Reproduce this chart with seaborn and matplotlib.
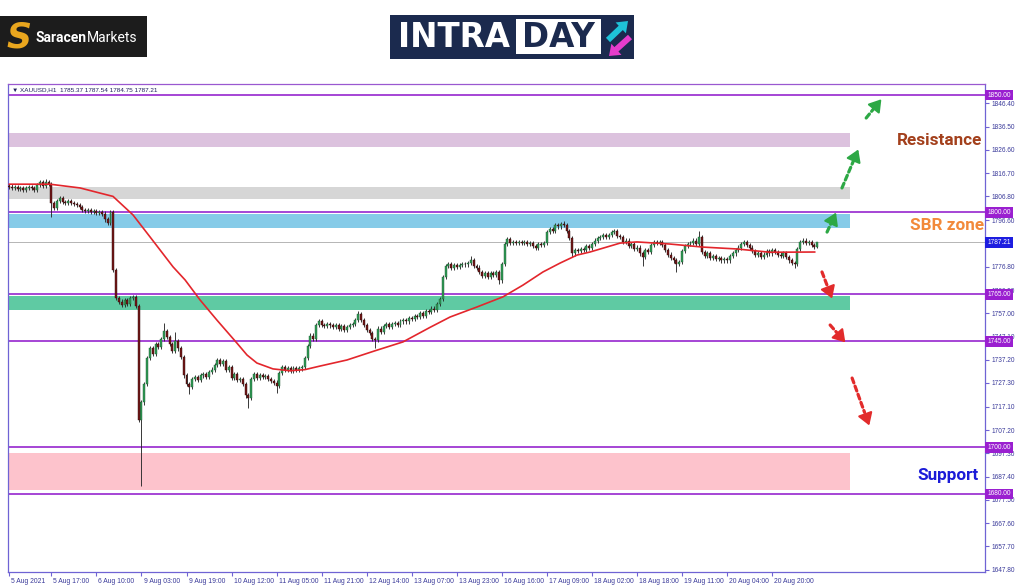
import matplotlib
matplotlib.use("Agg")
import numpy as np
import pandas as pd
import matplotlib.pyplot as plt
import seaborn as sns
from matplotlib import transforms
from matplotlib.patches import Rectangle, FancyArrow

# ---------------- data ----------------
header_text = "\u25BC XAUUSD,H1  1785.37 1787.54 1784.75 1787.21"
first_open = 1811.2
closes = [
    1811.0, 1810.5, 1810.8, 1809.8, 1810.2, 1809.5, 1810.3, 1810.9, 1810.5, 1809.6,
    1811.5, 1812.8, 1811.2, 1813.0, 1812.2, 1804.0, 1802.0, 1805.0, 1806.0, 1804.5,
    1804.0, 1804.8, 1804.0, 1803.5, 1803.0, 1802.2, 1801.0, 1800.5, 1800.8, 1800.2,
    1800.5, 1799.8, 1800.3, 1799.5, 1797.0, 1795.5, 1800.0, 1775.5, 1763.5, 1762.0,
    1760.5, 1762.5, 1761.0, 1763.5, 1764.0, 1760.0, 1711.5, 1719.0, 1727.0, 1738.0,
    1742.0, 1739.5, 1744.0, 1742.5, 1746.0, 1749.5, 1747.0, 1744.0, 1741.0, 1745.0,
    1742.0, 1738.5, 1730.5, 1727.0, 1725.5, 1729.0, 1730.0, 1728.5, 1730.5, 1731.0,
    1730.0, 1732.0, 1733.0, 1735.0, 1737.0, 1735.5, 1736.5, 1733.0, 1734.0, 1729.5,
    1731.0, 1728.5, 1729.0, 1727.0, 1722.0, 1721.0, 1729.0, 1731.0, 1729.5, 1730.5,
    1729.8, 1730.2, 1729.0, 1728.0, 1727.5, 1726.0, 1731.5, 1734.0, 1733.0, 1733.5,
    1732.5, 1733.8, 1732.8, 1733.5, 1734.0, 1738.0, 1743.0, 1747.5, 1746.0, 1752.0,
    1753.5, 1752.0, 1751.5, 1752.5, 1751.8, 1751.0, 1752.0, 1750.5, 1751.5, 1750.0,
    1751.0, 1752.0, 1752.5, 1754.0, 1756.5, 1754.0, 1752.0, 1750.0, 1748.5, 1746.0,
    1745.5, 1750.5, 1749.0, 1751.5, 1752.5, 1751.0, 1752.5, 1753.0, 1752.0, 1753.5,
    1754.0, 1753.5, 1755.0, 1754.5, 1756.0, 1755.5, 1757.0, 1756.0, 1758.0, 1757.5,
    1759.0, 1758.5, 1761.0, 1763.0, 1772.5, 1777.0, 1778.0, 1776.5, 1777.5, 1776.8,
    1777.5, 1778.0, 1777.8, 1778.5, 1779.5, 1777.0, 1776.5, 1774.5, 1773.0, 1774.0,
    1772.5, 1774.0, 1773.5, 1774.5, 1771.0, 1778.0, 1786.5, 1788.5, 1787.0, 1787.5,
    1786.8, 1787.3, 1787.0, 1787.5, 1786.5, 1787.0, 1785.5, 1785.0, 1786.5, 1786.0,
    1786.8, 1791.5, 1793.0, 1792.0, 1794.5, 1794.0, 1795.0, 1794.5, 1792.0, 1789.0,
    1782.5, 1784.0, 1783.5, 1784.5, 1784.0, 1785.5, 1785.0, 1786.5, 1788.0, 1789.0,
    1789.5, 1790.5, 1789.5, 1790.5, 1791.5, 1792.0, 1790.0, 1789.5, 1787.5, 1788.0,
    1785.5, 1786.5, 1784.5, 1785.0, 1782.5, 1781.0, 1784.0, 1783.0, 1786.0, 1787.5,
    1787.0, 1787.5, 1786.0, 1784.0, 1782.0, 1780.5, 1779.5, 1778.0, 1779.0, 1783.5,
    1785.5, 1786.5, 1787.0, 1788.0, 1786.5, 1789.5, 1783.0, 1781.5, 1782.5, 1780.5,
    1781.5, 1780.0, 1780.5, 1779.5, 1780.0, 1779.5, 1781.5, 1782.5, 1784.0, 1785.0,
    1786.5, 1787.5, 1786.0, 1785.0, 1783.5, 1782.0, 1782.5, 1781.0, 1782.0, 1783.5,
    1782.5, 1784.0, 1783.0, 1782.0, 1781.5, 1782.5, 1781.0, 1779.5, 1778.5, 1778.0,
    1784.5, 1787.5, 1788.0, 1787.0, 1787.5, 1786.0, 1785.37, 1787.21,
]
# notable wick extremes (bar index -> price)
high_marks = {13: 1814.0, 55: 1753.0, 59: 1749.0, 124: 1758.0, 164: 1781.5,
              197: 1796.2, 215: 1793.0, 245: 1792.0, 287: 1787.54}
low_marks = {15: 1798.0, 46: 1710.5, 47: 1683.5, 64: 1722.5, 85: 1716.8,
             95: 1723.0, 130: 1742.0, 174: 1769.5, 200: 1781.0, 225: 1777.0,
             237: 1774.5, 279: 1776.5, 287: 1784.75}

ma_bars = [0, 14.5, 25.2, 32.3, 36.9, 44.0, 50.0, 58.2, 62.5, 67.8, 73.8, 80.9,
           84.5, 88.0, 93.7, 99.8, 105.1, 110.4, 120.0, 129.9, 139.9, 149.5,
           156.6, 166.2, 175.4, 182.5, 189.6, 195.7, 201.7, 206.3, 217.0, 223.0,
           234.7, 246.4, 258.5, 270.2, 286.2]
ma_values = [1812.0, 1812.0, 1810.4, 1808.2, 1806.8, 1798.9, 1789.6, 1776.8,
             1771.2, 1762.7, 1754.1, 1744.3, 1739.2, 1735.8, 1733.3, 1732.5,
             1733.0, 1734.5, 1737.1, 1741.0, 1744.8, 1751.0, 1755.4, 1759.7,
             1764.0, 1769.0, 1774.6, 1778.4, 1781.8, 1783.1, 1786.9, 1787.4,
             1786.5, 1785.2, 1784.4, 1783.0, 1783.1]

x_tick_bars = [0, 15, 31, 47, 63, 79, 95, 111, 127, 143, 159, 175, 191, 207,
               223, 239, 255, 271]
x_tick_labels = ["5 Aug 2021", "5 Aug 17:00", "6 Aug 10:00", "9 Aug 03:00",
                 "9 Aug 19:00", "10 Aug 12:00", "11 Aug 05:00", "11 Aug 21:00",
                 "12 Aug 14:00", "13 Aug 07:00", "13 Aug 23:00", "16 Aug 16:00",
                 "17 Aug 09:00", "18 Aug 02:00", "18 Aug 18:00", "19 Aug 11:00",
                 "20 Aug 04:00", "20 Aug 20:00"]
y_tick_values = [1846.40, 1836.50, 1826.60, 1816.70, 1806.80, 1796.60,
                 1776.80, 1766.90, 1757.00, 1747.10, 1737.20, 1727.30, 1717.10,
                 1707.20, 1697.30, 1687.40, 1677.50, 1667.60, 1657.70, 1647.80]
level_values = [1850.00, 1800.00, 1765.00, 1745.00, 1700.00, 1680.00]
last_price = 1787.21

zone_low = [1827.8, 1805.7, 1793.3, 1758.3, 1681.7]
zone_high = [1833.8, 1810.8, 1799.3, 1764.2, 1697.6]
zone_colors = ["#dcc2de", "#d6d6d6", "#86cbe8", "#5fcaa3", "#fdc3cc"]

zone_labels = ["Resistance", "SBR zone", "Support"]
zone_label_pos = [(330.3, 1830.8), (333.0, 1794.2), (333.5, 1687.7)]
zone_label_colors = ["#a3401c", "#f2893a", "#1b1bd8"]

up_arrows = [((290.5, 1791.6), (293.7, 1799.9)),
             ((295.8, 1810.4), (301.6, 1826.8)),
             ((304.4, 1840.2), (309.8, 1848.2))]
down_arrows = [((288.7, 1774.6), (292.3, 1763.3)),
               ((291.6, 1752.0), (297.0, 1744.6)),
               ((299.4, 1729.4), (305.5, 1709.2))]

# ---------------- build OHLC ----------------
WICK = 0.9
n = len(closes)
opens = [first_open] + closes[:-1]
opens[-1] = 1785.37
df = pd.DataFrame({"bar": np.arange(n), "open": opens, "close": closes})
df["high"] = [high_marks.get(i, max(o, c) + WICK) for i, o, c in zip(df.bar, df.open, df.close)]
df["low"] = [low_marks.get(i, min(o, c) - WICK) for i, o, c in zip(df.bar, df.open, df.close)]
up = df.close >= df.open

# ---------------- figure ----------------
sns.set_theme(style="white")
plt.rcParams["font.family"] = ["Liberation Sans", "DejaVu Sans"]

fig = plt.figure(figsize=(10.24, 5.87), dpi=100, facecolor="white")
ax = fig.add_axes([8 / 1024, 15 / 587, 977 / 1024, 488 / 587])
ax.set_facecolor("white")
ax.set_xlim(-0.4, 346.6)
ax.set_ylim(1646.76, 1854.69)

axis_col = "#6f63d4"
label_col = "#3a3a9a"
for s in ax.spines.values():
    s.set_color(axis_col)
    s.set_linewidth(0.9)
ax.spines["top"].set_color("#9a58d0")

# zones
band_end = (850 - 8) / 977
for lo, hi, col in zip(zone_low, zone_high, zone_colors):
    ax.axhspan(lo, hi, xmin=0, xmax=band_end, color=col, lw=0, zorder=1)

# level lines
for v in level_values:
    ax.axhline(v, color="#9a2fd0", lw=1.25, zorder=2)
ax.axhline(last_price, color="#b5b5b5", lw=0.7, zorder=2)

# candles
ax.vlines(df.bar, df.low, df.high, color="#2a2a2a", lw=0.65, zorder=3)
ax.bar(df.bar[up], (df.close - df.open)[up].clip(lower=0.35), bottom=df.open[up],
       width=0.7, color="#2f9a55", edgecolor="#1d5a32", linewidth=0.3, zorder=4)
ax.bar(df.bar[~up], (df.open - df.close)[~up].clip(lower=0.35), bottom=df.close[~up],
       width=0.7, color="#741818", edgecolor="#2b0606", linewidth=0.3, zorder=4)

# moving average
sns.lineplot(x=ma_bars, y=ma_values, ax=ax, color="#e3262c", linewidth=1.2,
             sort=False, zorder=5, legend=False)

# dashed arrows
def dashed_arrow(tail, head, col):
    t = np.array(tail); h = np.array(head)
    mid = t + 0.72 * (h - t)
    ax.annotate("", xy=tuple(mid), xytext=tuple(t),
                arrowprops=dict(arrowstyle="-", color=col, lw=2.3,
                                linestyle=(0, (1.6, 1.1)), shrinkA=0, shrinkB=0),
                zorder=6, annotation_clip=False)
    ax.annotate("", xy=tuple(h), xytext=tuple(mid),
                arrowprops=dict(arrowstyle="-|>,head_length=0.6,head_width=0.38",
                                color=col, lw=1.5, shrinkA=0, shrinkB=0),
                zorder=6, annotation_clip=False)

for tail, head in up_arrows:
    dashed_arrow(tail, head, "#2da845")
for tail, head in down_arrows:
    dashed_arrow(tail, head, "#e22b2b")

# zone labels
for txt, (bx, by), col in zip(zone_labels, zone_label_pos, zone_label_colors):
    ax.text(bx, by, txt, ha="center", va="center", fontsize=12.3,
            fontweight="bold", color=col, family=["Roboto", "DejaVu Sans"], zorder=7)

# axes ticks
ax.yaxis.tick_right()
ax.set_yticks(y_tick_values)
ax.set_yticklabels([f"{v:.2f}" for v in y_tick_values])
ax.tick_params(axis="y", direction="out", length=3, width=0.8, color=axis_col,
               labelsize=4.7, labelcolor=label_col, pad=2, left=False, right=True,
               labelleft=False, labelright=True)
ax.set_xticks(x_tick_bars)
ax.set_xticklabels(x_tick_labels)
ax.tick_params(axis="x", direction="out", length=3, width=0.8, color=axis_col,
               labelsize=4.9, labelcolor=label_col, pad=1.5, bottom=True)
offset = transforms.ScaledTranslation(1.5 / 72, 0, fig.dpi_scale_trans)
for lbl in ax.get_xticklabels():
    lbl.set_horizontalalignment("left")
    lbl.set_transform(lbl.get_transform() + offset)
ax.grid(False)

# highlighted price boxes
btrans = transforms.blended_transform_factory(ax.transAxes, ax.transData)
for v in level_values:
    ax.text(1.0025, v, f"{v:.2f}", transform=btrans, ha="left", va="center",
            fontsize=4.7, color="white", zorder=9, clip_on=False,
            bbox=dict(boxstyle="square,pad=0.3", fc="#9a1fd0", ec="none"))
ax.text(1.0025, last_price, f"{last_price:.2f}", transform=btrans, ha="left",
        va="center", fontsize=4.7, color="white", zorder=9, clip_on=False,
        bbox=dict(boxstyle="square,pad=0.3", fc="#1d1de0", ec="none"))

# ---------------- overlay: header & logos (pixel coordinates) ----------------
ov = fig.add_axes([0, 0, 1, 1], zorder=10)
ov.set_xlim(0, 1024)
ov.set_ylim(587, 0)
ov.axis("off")

ov.text(12, 89.5, header_text, fontsize=4.6, color="#1e1e5e", va="center",
        ha="left", family=["Liberation Sans", "DejaVu Sans"])

# SaracenMarkets logo
ov.add_patch(Rectangle((0, 16), 147, 41, color="#1c1c1c", lw=0))
ov.text(19, 37, "S", fontsize=25, fontweight="bold", style="italic",
        color="#e9a61e", ha="center", va="center", family=["DejaVu Sans"])
t1 = ov.text(36, 37.5, "Saracen", fontsize=10, fontweight="bold", color="white",
             ha="left", va="center", family=["Roboto", "DejaVu Sans"])
ov.annotate("Markets", xy=(1, 0.5), xycoords=t1, ha="left", va="center",
            fontsize=10, color="white", family=["Roboto", "DejaVu Sans"])

# INTRADAY logo
navy = "#1b2a4e"
ov.add_patch(Rectangle((390, 15), 244, 44, color=navy, lw=0))
ov.add_patch(Rectangle((516, 19), 85, 35, color="white", lw=0))
ov.text(454, 37.5, "INTRA", fontsize=23.5, fontweight="bold", color="white",
        ha="center", va="center", family=["DejaVu Sans"])
ov.text(558.5, 37.5, "DAY", fontsize=23.5, fontweight="bold", color=navy,
        ha="center", va="center", family=["DejaVu Sans"])
ov.add_patch(FancyArrow(608, 40, 20, -19, width=6, head_width=15, head_length=10,
                        length_includes_head=True, color="#1ec2d8", lw=0))
ov.add_patch(FancyArrow(630, 37, -21, 19, width=6, head_width=15, head_length=10,
                        length_includes_head=True, color="#e63ccc", lw=0))

fig.savefig("out.png", dpi=100, facecolor="white")
